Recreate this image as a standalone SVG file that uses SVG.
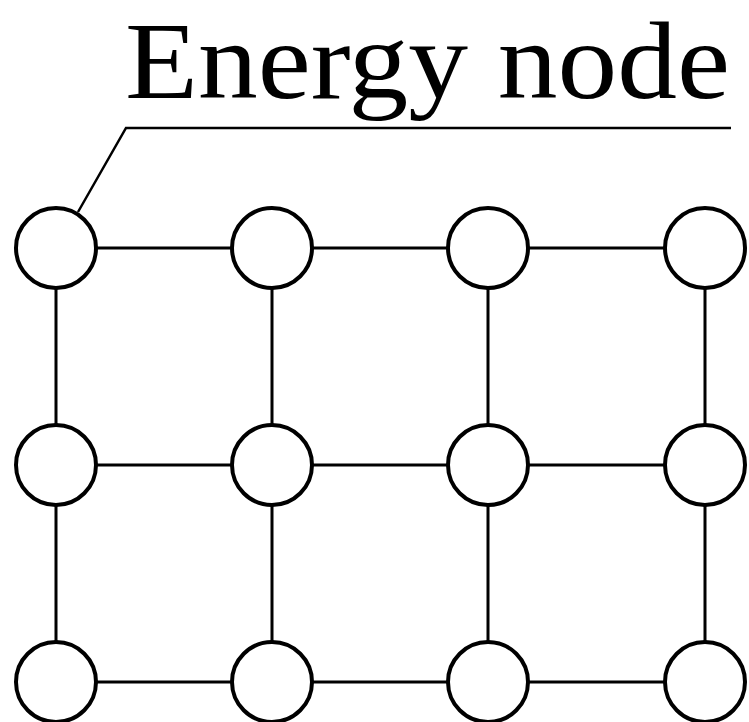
<svg xmlns="http://www.w3.org/2000/svg" width="749" height="722" viewBox="0 0 749 722">
<style>
.node{fill:#fff;stroke:#000;stroke-width:4}
.edge{stroke:#000;stroke-width:3;fill:none}
.lead{stroke:#000;stroke-width:2.5;fill:none}
.lbl{font-family:"Liberation Serif","Times New Roman",serif;font-size:110px;fill:#000}
</style>
<rect width="749" height="722" fill="#fff"/>
<text class="lbl" x="125" y="98" textLength="605" lengthAdjust="spacingAndGlyphs">Energy node</text>
<g id="connectors">
<path class="lead" d="M731,128 H126 L78,212"/>
<path class="edge" d="M56,248 H705 M56,465 H705 M56,682 H705 M56,248 V682 M272,248 V682 M488,248 V682 M705,248 V682"/>
</g>
<g id="n11"><circle class="node" cx="56" cy="248" r="40"/></g>
<g id="n12"><circle class="node" cx="272" cy="248" r="40"/></g>
<g id="n13"><circle class="node" cx="488" cy="248" r="40"/></g>
<g id="n14"><circle class="node" cx="705" cy="248" r="40"/></g>
<g id="n21"><circle class="node" cx="56" cy="465" r="40"/></g>
<g id="n22"><circle class="node" cx="272" cy="465" r="40"/></g>
<g id="n23"><circle class="node" cx="488" cy="465" r="40"/></g>
<g id="n24"><circle class="node" cx="705" cy="465" r="40"/></g>
<g id="n31"><circle class="node" cx="56" cy="682" r="40"/></g>
<g id="n32"><circle class="node" cx="272" cy="682" r="40"/></g>
<g id="n33"><circle class="node" cx="488" cy="682" r="40"/></g>
<g id="n34"><circle class="node" cx="705" cy="682" r="40"/></g>
</svg>
